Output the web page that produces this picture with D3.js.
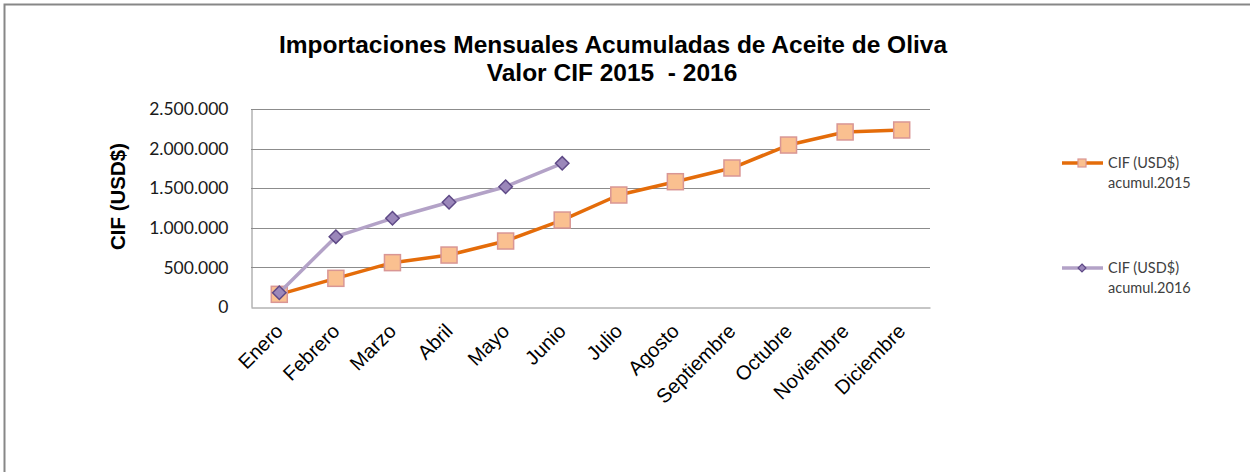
<!DOCTYPE html>
<html>
<head>
<meta charset="utf-8">
<script src="https://cdn.jsdelivr.net/npm/d3@7"></script>
<style>
  body { margin: 0; background: #fff; }
  svg { display: block; }
</style>
</head>
<body>
<div class="chart"></div>
<script>
var months = ["Enero", "Febrero", "Marzo", "Abril", "Mayo", "Junio", "Julio",
  "Agosto", "Septiembre", "Octubre", "Noviembre", "Diciembre"];
var cif2015 = [160000, 362000, 560000, 656000, 833000, 1098000, 1414000,
  1582000, 1755000, 2045000, 2210000, 2235000];
var cif2016 = [180000, 888000, 1120000, 1322000, 1519000, 1814000];
var yTicks = [0, 500000, 1000000, 1500000, 2000000, 2500000];
var seriesNames = ["CIF (USD$)|acumul.2015", "CIF (USD$)|acumul.2016"];

var w = 1250,
    h = 472;

var vis = d3.select(".chart").append("svg")
    .attr("width", w)
    .attr("height", h);

// outer chart frame (only top/left edges show in the crop)
vis.append("rect")
    .attr("x", 4.5).attr("y", 4.5)
    .attr("width", w + 20).attr("height", h + 20)
    .attr("fill", "#fff")
    .attr("stroke", "#878787")
    .attr("stroke-width", 2);

var pLeft = 251, pRight = 930, pTop = 109, pBottom = 307;

var x = d3.scaleBand().domain(months).range([pLeft, pRight]);
var y = d3.scaleLinear().domain([0, 2500000]).range([pBottom, pTop]);

var es = d3.formatLocale({decimal: ",", thousands: ".", grouping: [3], currency: ["$", ""]});
var fmt = es.format(",");

// gridlines
vis.append("g").selectAll("line").data(yTicks.slice(1)).enter().append("line")
    .attr("x1", pLeft).attr("x2", pRight)
    .attr("y1", function(d) { return Math.round(y(d)) + 0.5; })
    .attr("y2", function(d) { return Math.round(y(d)) + 0.5; })
    .attr("stroke", "#8c8c8c").attr("stroke-width", 1);

// y axis
var yAxis = vis.append("g")
    .attr("transform", "translate(" + (pLeft + 0.5) + ",0)")
    .call(d3.axisLeft(y).tickValues(yTicks).tickFormat(fmt).tickSize(0).tickPadding(23));
yAxis.select(".domain").attr("stroke", "#8c8c8c");
yAxis.selectAll("text")
    .style("font-family", "Lato, 'Open Sans', sans-serif")
    .style("font-size", "17.5px")
    .attr("fill", "#1a1a1a");

// x axis
var xAxis = vis.append("g")
    .attr("transform", "translate(0," + (pBottom + 0.5) + ")")
    .call(d3.axisBottom(x).tickSize(0).tickPadding(0));
xAxis.select(".domain").attr("stroke", "#8c8c8c");
xAxis.selectAll("text")
    .style("font-family", "'Liberation Sans', Arial, sans-serif")
    .style("font-size", "20px")
    .attr("fill", "#000")
    .attr("text-anchor", "end")
    .attr("dy", "0.35em")
    .attr("transform", "translate(0,20) rotate(-45)");

// y axis title
vis.append("text")
    .attr("transform", "translate(125,196.5) rotate(-90)")
    .attr("text-anchor", "middle")
    .style("font-family", "'Liberation Sans', Arial, sans-serif")
    .style("font-size", "20.5px")
    .style("font-weight", "bold")
    .text("CIF (USD$)");

// title
var title = vis.append("text")
    .attr("text-anchor", "middle")
    .style("font-family", "'Liberation Sans', Arial, sans-serif")
    .style("font-size", "24.5px")
    .style("font-weight", "bold");
title.append("tspan").attr("x", 613).attr("y", 53)
    .text("Importaciones Mensuales Acumuladas de Aceite de Oliva");
title.append("tspan").attr("x", 612).attr("y", 81)
    .attr("xml:space", "preserve")
    .text("Valor CIF 2015  - 2016");

var cx = function(d, i) { return x(months[i]) + x.bandwidth() / 2; };

var line = d3.line()
    .x(cx)
    .y(function(d) { return y(d); });

// 2015 series
vis.append("path").datum(cif2015)
    .attr("d", line)
    .attr("fill", "none")
    .attr("stroke", "#e46c0a")
    .attr("stroke-width", 3.5)
    .attr("stroke-linejoin", "round");
vis.append("g").selectAll("rect").data(cif2015).enter().append("rect")
    .attr("x", function(d, i) { return cx(d, i) - 8; })
    .attr("y", function(d) { return y(d) - 8; })
    .attr("width", 16).attr("height", 16)
    .attr("fill", "#fac090")
    .attr("stroke", "#d99694")
    .attr("stroke-width", 1.5);

// 2016 series
vis.append("path").datum(cif2016)
    .attr("d", line)
    .attr("fill", "none")
    .attr("stroke", "#b3a2c7")
    .attr("stroke-width", 3.5)
    .attr("stroke-linejoin", "round");
var diamond = d3.symbol().type(d3.symbolDiamond2).size(115);
vis.append("g").selectAll("path").data(cif2016).enter().append("path")
    .attr("d", diamond)
    .attr("transform", function(d, i) { return "translate(" + cx(d, i) + "," + y(d) + ")"; })
    .attr("fill", "#9b87ba")
    .attr("stroke", "#5f4a87")
    .attr("stroke-width", 1.5);

// legend
var legendY = [163, 268];
var lg = vis.append("g").selectAll("g").data(seriesNames).enter().append("g")
    .attr("transform", function(d, i) { return "translate(0," + legendY[i] + ")"; });
lg.append("line")
    .attr("x1", 1062).attr("x2", 1103)
    .attr("stroke", function(d, i) { return i == 0 ? "#e46c0a" : "#b3a2c7"; })
    .attr("stroke-width", 3.5);
lg.each(function(d, i) {
  var g = d3.select(this);
  if (i == 0) {
    g.append("rect").attr("x", 1078).attr("y", -4).attr("width", 8).attr("height", 8)
        .attr("fill", "#fac090").attr("stroke", "#d99694").attr("stroke-width", 1.2);
  } else {
    g.append("path").attr("d", d3.symbol().type(d3.symbolDiamond2).size(40))
        .attr("transform", "translate(1082,0)")
        .attr("fill", "#9b87ba").attr("stroke", "#5f4a87").attr("stroke-width", 1.2);
  }
  var t = g.append("text")
      .style("font-family", "Lato, 'Open Sans', sans-serif")
      .style("font-size", "14.5px")
      .attr("fill", "#404040");
  d.split("|").forEach(function(s, k) {
    t.append("tspan").attr("x", 1108).attr("y", 5 + k * 20).text(s);
  });
});
</script>
</body>
</html>
